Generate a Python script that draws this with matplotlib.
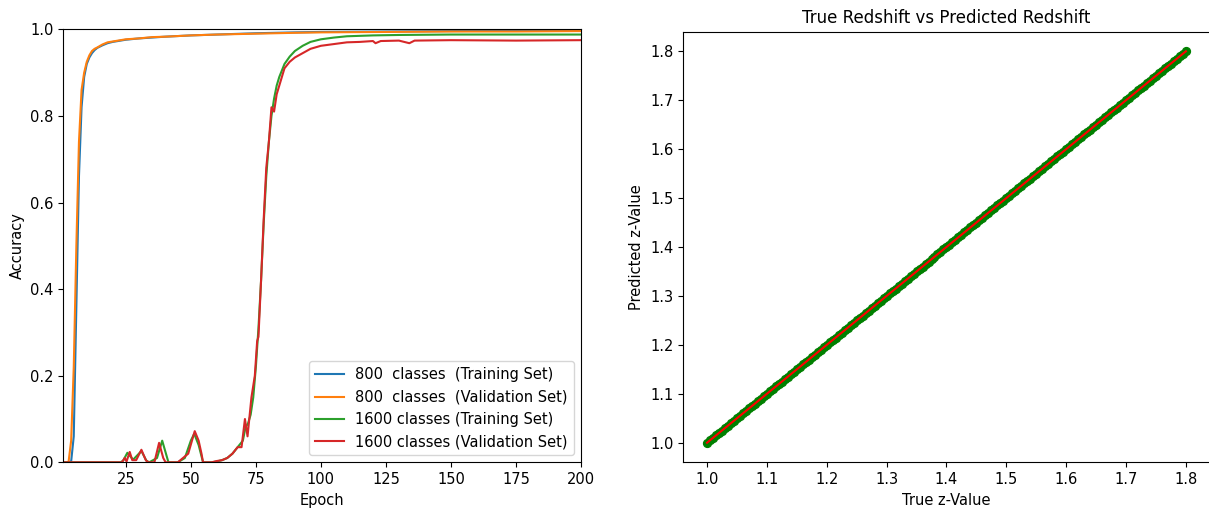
import matplotlib
matplotlib.use("Agg")
import matplotlib.pyplot as plt

# Left panel: accuracy per epoch
epochs_800 = [1, 2, 3, 4, 5, 6, 7, 8, 9, 10, 11, 12, 13, 14, 16, 18, 20, 25, 30, 35,
              40, 50, 60, 75, 90, 100, 125, 150, 175, 200]
train_800 = [0.0, 0.0, 0.0, 0.002, 0.06, 0.36, 0.66, 0.82, 0.89, 0.92, 0.935, 0.945, 0.952, 0.957,
             0.963, 0.968, 0.971, 0.976, 0.979, 0.981, 0.983, 0.986, 0.988, 0.991, 0.993, 0.994,
             0.995, 0.996, 0.997, 0.997]
val_800 = [0.0, 0.0, 0.001, 0.05, 0.22, 0.50, 0.74, 0.86, 0.90, 0.925, 0.94, 0.95, 0.955, 0.958,
           0.965, 0.97, 0.972, 0.977, 0.979, 0.982, 0.983, 0.986, 0.988, 0.990, 0.992, 0.993,
           0.994, 0.995, 0.995, 0.996]

epochs_1600_train = [1, 23, 24, 25.6, 27.8, 31, 32.9, 34, 37, 39, 41.4, 45, 47.7, 50, 51.3, 53, 54.7,
                     58, 60, 62, 64, 66, 68, 70, 71, 72, 73, 74, 75, 76, 77, 78, 79, 80, 81, 82,
                     83, 84, 85, 86, 88, 90, 93, 96, 100, 105, 110, 120, 130, 150, 175, 200]
train_1600 = [0.0, 0.0, 0.004, 0.022, 0.006, 0.026, 0.004, 0.0, 0.01, 0.05, 0.0, 0.0, 0.01, 0.05,
              0.066, 0.04, 0.0, 0.0, 0.002, 0.005, 0.01, 0.02, 0.035, 0.05, 0.08, 0.09, 0.11, 0.15,
              0.22, 0.31, 0.42, 0.55, 0.66, 0.74, 0.80, 0.84, 0.87, 0.89, 0.905, 0.92, 0.937, 0.95,
              0.962, 0.971, 0.977, 0.981, 0.984, 0.986, 0.987, 0.988, 0.988, 0.988]

epochs_1600_val = [1, 23.5, 24.6, 25.3, 26.5, 27.5, 29, 31, 32.7, 33.6, 36, 37.8, 39.4, 40.3, 45, 49,
                   51.5, 53, 54.1, 54.7, 58, 60, 62, 64, 66, 68, 69.5, 70.8, 71.8, 73.3, 74.6, 75.5,
                   76, 77, 78, 79, 80, 81, 82, 83, 84, 85, 86, 88, 90, 93, 96, 100, 105, 110, 115,
                   120, 121, 123, 130, 134, 136, 150, 175, 200]
val_1600 = [0.0, 0.0, 0.01, 0.002, 0.024, 0.005, 0.005, 0.029, 0.005, 0.0, 0.0, 0.045, 0.01, 0.0,
            0.0, 0.02, 0.072, 0.05, 0.02, 0.0, 0.0, 0.003, 0.005, 0.01, 0.02, 0.035, 0.035, 0.10,
            0.06, 0.15, 0.20, 0.28, 0.29, 0.42, 0.56, 0.68, 0.74, 0.82, 0.81, 0.85, 0.87, 0.89,
            0.91, 0.925, 0.935, 0.945, 0.955, 0.962, 0.966, 0.970, 0.971, 0.973, 0.968, 0.973,
            0.974, 0.968, 0.974, 0.975, 0.974, 0.975]

labels = ["800  classes  (Training Set)", "800  classes  (Validation Set)",
          "1600 classes (Training Set)", "1600 classes (Validation Set)"]

# Right panel: true vs predicted redshift (predictions sit on the true values)
true_z = [1.000, 1.005, 1.010, 1.015, 1.020, 1.025, 1.030, 1.035, 1.040, 1.045,
          1.050, 1.055, 1.060, 1.065, 1.070, 1.075, 1.080, 1.085, 1.090, 1.095,
          1.100, 1.105, 1.110, 1.115, 1.120, 1.125, 1.130, 1.135, 1.140, 1.145,
          1.150, 1.155, 1.160, 1.165, 1.170, 1.175, 1.180, 1.185, 1.190, 1.195,
          1.200, 1.205, 1.210, 1.215, 1.220, 1.225, 1.230, 1.235, 1.240, 1.245,
          1.250, 1.255, 1.260, 1.265, 1.270, 1.275, 1.280, 1.285, 1.290, 1.295,
          1.300, 1.305, 1.310, 1.315, 1.320, 1.325, 1.330, 1.335, 1.340, 1.345,
          1.350, 1.355, 1.360, 1.365, 1.370, 1.375, 1.380, 1.385, 1.390, 1.395,
          1.400, 1.405, 1.410, 1.415, 1.420, 1.425, 1.430, 1.435, 1.440, 1.445,
          1.450, 1.455, 1.460, 1.465, 1.470, 1.475, 1.480, 1.485, 1.490, 1.495,
          1.500, 1.505, 1.510, 1.515, 1.520, 1.525, 1.530, 1.535, 1.540, 1.545,
          1.550, 1.555, 1.560, 1.565, 1.570, 1.575, 1.580, 1.585, 1.590, 1.595,
          1.600, 1.605, 1.610, 1.615, 1.620, 1.625, 1.630, 1.635, 1.640, 1.645,
          1.650, 1.655, 1.660, 1.665, 1.670, 1.675, 1.680, 1.685, 1.690, 1.695,
          1.700, 1.705, 1.710, 1.715, 1.720, 1.725, 1.730, 1.735, 1.740, 1.745,
          1.750, 1.755, 1.760, 1.765, 1.770, 1.775, 1.780, 1.785, 1.790, 1.795, 1.800]
pred_z = list(true_z)

plt.rcParams["font.size"] = 10.5

fig = plt.figure(figsize=(12.09, 5.13), dpi=100)
ax1 = fig.add_axes([0.0524, 0.0988, 0.4282, 0.844])
ax2 = fig.add_axes([0.565, 0.0988, 0.4357, 0.8394])

ax1.plot(epochs_800, train_800, color="tab:blue", lw=1.5, label=labels[0])
ax1.plot(epochs_800, val_800, color="tab:orange", lw=1.5, label=labels[1])
ax1.plot(epochs_1600_train, train_1600, color="tab:green", lw=1.5, label=labels[2])
ax1.plot(epochs_1600_val, val_1600, color="tab:red", lw=1.5, label=labels[3])
ax1.set_xlim(1, 200)
ax1.set_ylim(0, 1)
ax1.set_xticks([25, 50, 75, 100, 125, 150, 175, 200])
ax1.set_xlabel("Epoch")
ax1.set_ylabel("Accuracy")
ax1.legend(loc="lower right")

ax2.scatter(true_z, pred_z, color="green", s=32, zorder=2)
ax2.plot(true_z, pred_z, color="red", lw=1.5, zorder=3)
ax2.set_xlim(0.96, 1.84)
ax2.set_ylim(0.96, 1.84)
ax2.set_title("True Redshift vs Predicted Redshift", fontsize=12)
ax2.set_xlabel("True z-Value")
ax2.set_ylabel("Predicted z-Value")

fig.savefig("out.png", dpi=100)
